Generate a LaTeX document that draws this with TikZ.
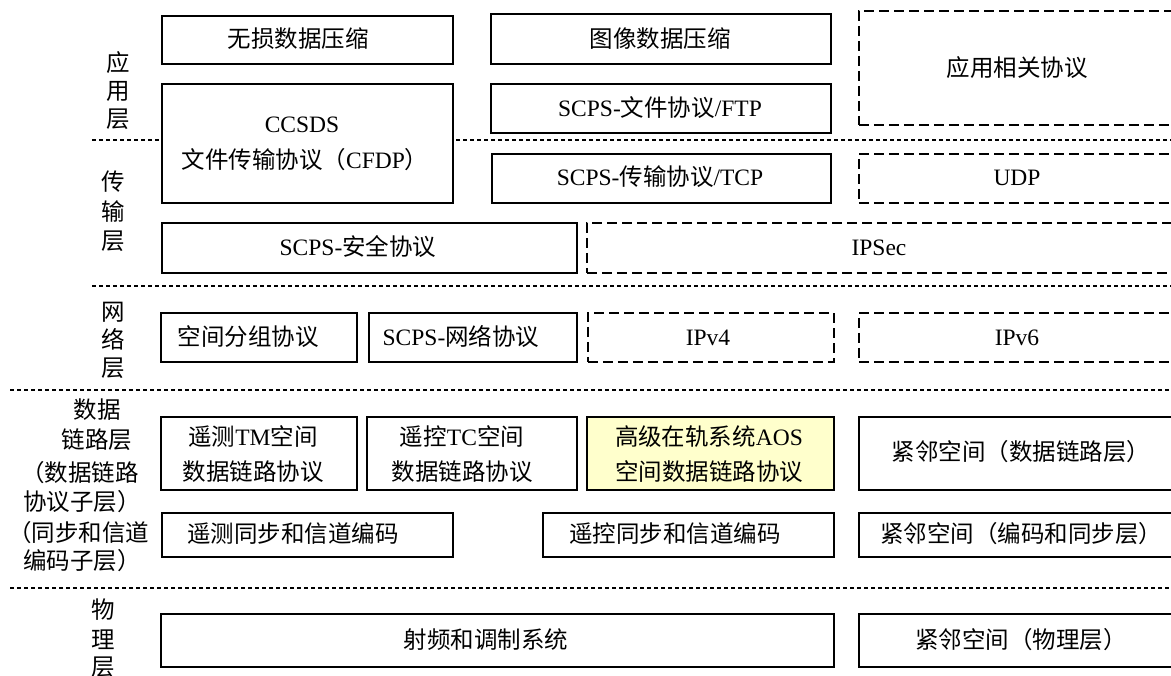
\documentclass[tikz,border=0pt]{standalone}
\usepackage{fontspec}
\setmainfont{Liberation Serif}
\newfontfamily\cjk{Noto Sans CJK SC}
\newcommand\zh[1]{{\cjk #1}}
\definecolor{aosfill}{RGB}{255,255,204}
\tikzset{
  solidbox/.style={draw=black, line width=1.8pt, fill=white},
  dashbox/.style={draw=black, line width=1.6pt, fill=white, dash pattern=on 10pt off 5pt},
  aosbox/.style={solidbox, fill=aosfill},
  sepline/.style={draw=black, line width=1.6pt, dash pattern=on 4pt off 3pt},
  txt/.style={inner sep=0pt, text height=17pt, text depth=0.5pt, font=\fontsize{23.5}{28}\selectfont},
}
% name, style, x, y, w, h
\newcommand\bx[6]{\node[#2, anchor=north west, minimum width=#5pt, minimum height=#6pt, inner sep=0pt] (#1) at (#3,#4) {};}
\begin{document}
\begin{tikzpicture}[x=1pt,y=-1pt]
\useasboundingbox (0,0) rectangle (1171,676);
\clip (0,0) rectangle (1171,676);
% layer separators
\draw[sepline] (92,140) -- (1171,140);
\draw[sepline] (92,286) -- (1171,286);
\draw[sepline] (10,390) -- (1171,390);
\draw[sepline] (10,588) -- (1171,588);
% boxes
\bx{A1}{solidbox}{161}{15}{291}{48}
\bx{A2}{solidbox}{490}{13}{340}{50}
\bx{A3}{solidbox}{161}{83}{291}{119}
\bx{A4}{solidbox}{490}{83}{340}{49}
\bx{A5}{dashbox}{858}{10}{318}{114}
\bx{T1}{solidbox}{491}{153}{339}{49}
\bx{T2}{solidbox}{161}{222}{415}{50}
\bx{T3}{dashbox}{858}{153}{318}{49}
\bx{T4}{dashbox}{586}{222}{590}{50}
\bx{N1}{solidbox}{160}{312}{196}{49}
\bx{N2}{solidbox}{368}{312}{208}{49}
\bx{N3}{dashbox}{587}{312}{246}{49}
\bx{N4}{dashbox}{858}{312}{318}{49}
\bx{D1}{solidbox}{160}{416}{196}{73}
\bx{D2}{solidbox}{366}{416}{210}{73}
\bx{D3}{aosbox}{586}{416}{247}{73}
\bx{D4}{solidbox}{858}{416}{324}{73}
\bx{S1}{solidbox}{161}{512}{291}{44}
\bx{S2}{solidbox}{542}{512}{291}{44}
\bx{S3}{solidbox}{858}{512}{324}{44}
\bx{P1}{solidbox}{160}{613}{673}{53}
\bx{P2}{solidbox}{858}{613}{324}{53}
% box texts
\node[txt] (tA1) at (298,39) {\zh{无损数据压缩}};
\node[txt] (tA2) at (660,39) {\zh{图像数据压缩}};
\node[txt] (tA3a) at (302,124) {CCSDS};
\node[txt] (tA3b) at (305,160) {\zh{文件传输协议（}CFDP\zh{）}};
\node[txt] (tA4) at (660,108) {SCPS-\zh{文件协议}/FTP};
\node[txt] (tA5) at (1017,68) {\zh{应用相关协议}};
\node[txt] (tT1) at (660,177) {SCPS-\zh{传输协议}/TCP};
\node[txt] (tT2) at (358,247) {SCPS-\zh{安全协议}};
\node[txt] (tT3) at (1017,177) {UDP};
\node[txt] (tT4) at (879,247) {IPSec};
\node[txt] (tN1) at (248,337) {\zh{空间分组协议}};
\node[txt] (tN2) at (461,337) {SCPS-\zh{网络协议}};
\node[txt] (tN3) at (708,337) {IPv4};
\node[txt] (tN4) at (1017,337) {IPv6};
\node[txt] (tD1a) at (253,437) {\zh{遥测}TM\zh{空间}};
\node[txt] (tD1b) at (253,472) {\zh{数据链路协议}};
\node[txt] (tD2a) at (462,437) {\zh{遥控}TC\zh{空间}};
\node[txt] (tD2b) at (462,472) {\zh{数据链路协议}};
\node[txt] (tD3a) at (709,437) {\zh{高级在轨系统}AOS};
\node[txt] (tD3b) at (709,472) {\zh{空间数据链路协议}};
\node[txt] (tD4) at (1021,452) {\zh{紧邻空间（数据链路层）}};
\node[txt] (tS1) at (293,534) {\zh{遥测同步和信道编码}};
\node[txt] (tS2) at (675,534) {\zh{遥控同步和信道编码}};
\node[txt] (tS3) at (1021,534) {\zh{紧邻空间（编码和同步层）}};
\node[txt] (tP1) at (486,640) {\zh{射频和调制系统}};
\node[txt] (tP2) at (1021,640) {\zh{紧邻空间（物理层）}};
% layer labels
\node[txt] (lA1) at (118,63) {\zh{应}};
\node[txt] (lA2) at (118,91) {\zh{用}};
\node[txt] (lA3) at (118,119) {\zh{层}};
\node[txt] (lT1) at (113,182) {\zh{传}};
\node[txt] (lT2) at (113,212) {\zh{输}};
\node[txt] (lT3) at (113,241) {\zh{层}};
\node[txt] (lN1) at (113,312) {\zh{网}};
\node[txt] (lN2) at (113,340) {\zh{络}};
\node[txt] (lN3) at (113,368) {\zh{层}};
\node[txt] (lD1) at (97,410) {\zh{数据}};
\node[txt] (lD2) at (97,440) {\zh{链路层}};
\node[txt] (lD3) at (80,473) {\zh{（数据链路}};
\node[txt] (lD4) at (82,502) {\zh{协议子层）}};
\node[txt] (lD5) at (79,533) {\zh{（同步和信道}};
\node[txt] (lD6) at (82,561) {\zh{编码子层）}};
\node[txt] (lP1) at (103,610) {\zh{物}};
\node[txt] (lP2) at (103,640) {\zh{理}};
\node[txt] (lP3) at (103,667) {\zh{层}};
\end{tikzpicture}
\end{document}
